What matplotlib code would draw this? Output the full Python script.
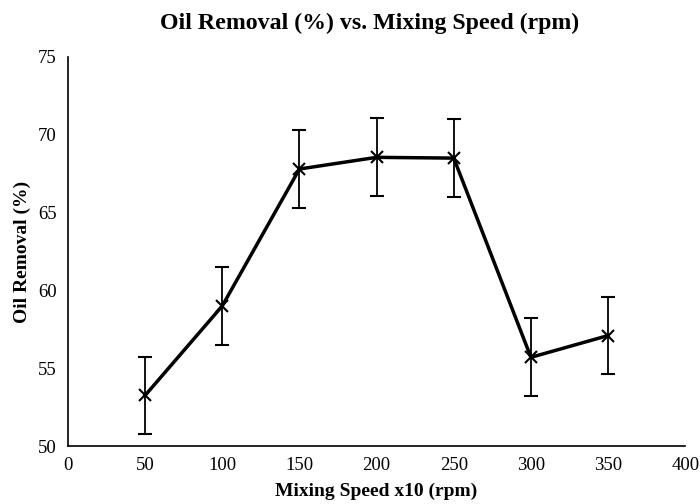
import matplotlib
matplotlib.use('Agg')
import matplotlib.pyplot as plt

speed = [50, 100, 150, 200, 250, 300, 350]
removal = [53.25, 59.0, 67.8, 68.55, 68.5, 55.7, 57.1]
err = [2.5, 2.5, 2.5, 2.5, 2.5, 2.5, 2.5]

plt.rcParams['font.family'] = ['Liberation Serif', 'DejaVu Serif']

fig = plt.figure(figsize=(7, 5.04), dpi=100)
ax = fig.add_axes([0.097, 0.115, 0.882, 0.772])

ax.errorbar(speed, removal, yerr=err, color='black', lw=2.5, marker='x',
            markersize=8, mew=1.5, ecolor='black', elinewidth=1.3,
            capsize=5, capthick=1.3)

ax.set_xlim(0, 400)
ax.set_ylim(50, 75)
ax.set_xticks(range(0, 401, 50))
ax.set_yticks(range(50, 76, 5))
ax.tick_params(length=0, labelsize=13.5, pad=8)
for s in ['top', 'right']:
    ax.spines[s].set_visible(False)
for s in ['left', 'bottom']:
    ax.spines[s].set_linewidth(1.2)

ax.set_title('Oil Removal (%) vs. Mixing Speed (rpm)', fontsize=17.2,
             fontweight='bold', pad=20, x=0.488)
ax.set_xlabel('Mixing Speed x10 (rpm)', fontsize=14, fontweight='bold', labelpad=6)
ax.set_ylabel('Oil Removal (%)', fontsize=14, fontweight='bold', labelpad=5)

fig.savefig('out.png', dpi=100)
